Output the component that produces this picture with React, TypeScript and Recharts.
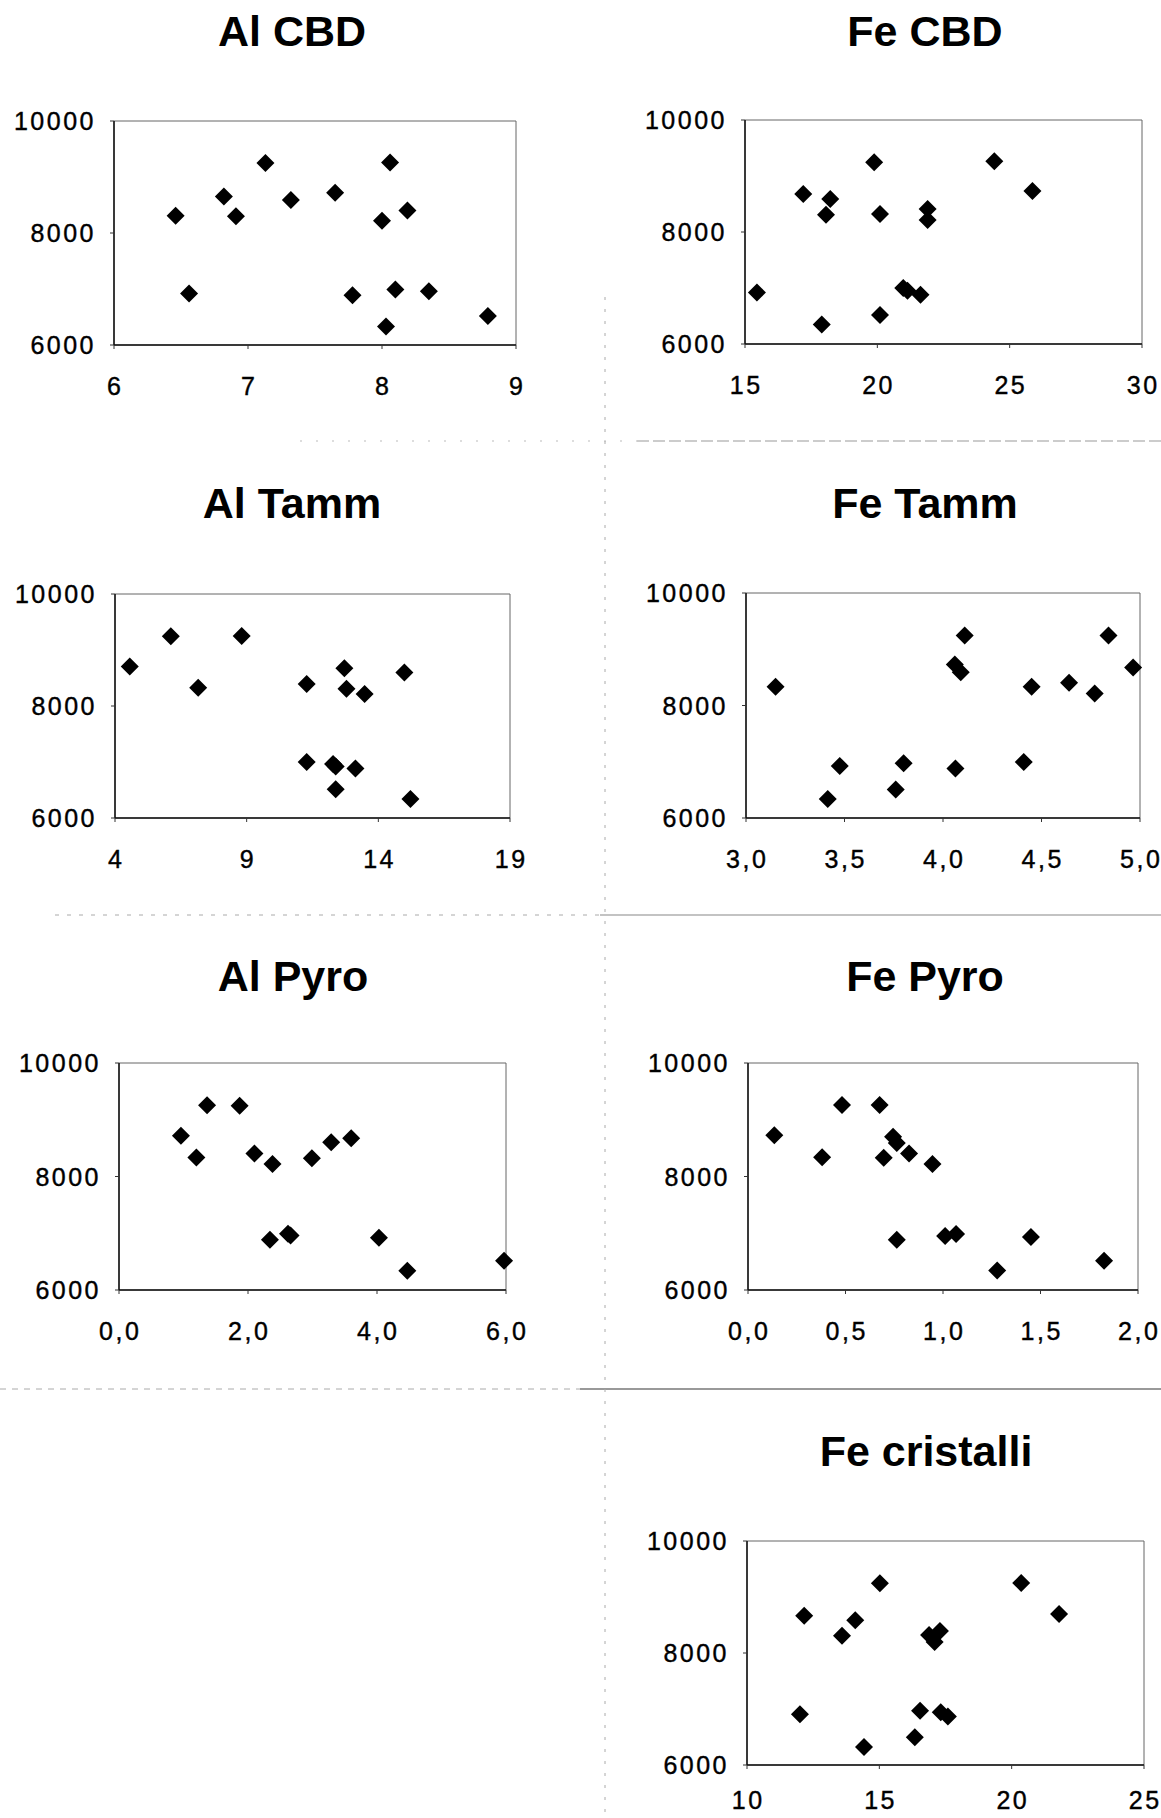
import React from "react";
import { ScatterChart, Scatter, XAxis, YAxis, ReferenceArea } from "recharts";

// values (same 15 samples in every panel)
const alCbdX = [6.46, 6.56, 6.82, 6.91, 7.13, 7.32, 7.65, 7.78, 8.0, 8.06, 8.19, 8.1, 8.03, 8.35, 8.79];
const alCbdY = [8310, 6920, 8650, 8300, 9250, 8590, 8720, 6890, 8220, 9260, 8400, 6990, 6330, 6960, 6520];

const feCbdX = [15.45, 17.2, 17.9, 18.06, 18.22, 19.88, 20.1, 20.1, 20.98, 21.14, 21.63, 21.9, 21.9, 24.42, 25.86];
const feCbdY = [6920, 8680, 6350, 8310, 8590, 9245, 8320, 6520, 7000, 6950, 6880, 8410, 8215, 9265, 8730];

const alTammX = [4.56, 6.12, 7.16, 8.81, 11.28, 11.28, 12.28, 12.38, 12.38, 12.71, 12.79, 13.13, 13.48, 14.99, 15.22];
const alTammY = [8705, 9245, 8325, 9250, 8395, 7000, 6965, 6920, 6515, 8675, 8310, 6885, 8215, 8600, 6340];

const feTammX = [3.15, 3.415, 3.476, 3.76, 3.8, 4.06, 4.09, 4.11, 4.063, 4.41, 4.45, 4.64, 4.77, 4.84, 4.965];
const feTammY = [8335, 6340, 6925, 6505, 6975, 8730, 8590, 9245, 6880, 6995, 8335, 8405, 8215, 9245, 8675];

const alPyroX = [0.96, 1.2, 1.365, 1.87, 2.1, 2.38, 2.34, 2.62, 2.66, 2.99, 3.29, 3.6, 4.03, 4.47, 5.97];
const alPyroY = [8720, 8335, 9255, 9245, 8405, 8220, 6885, 6990, 6960, 8320, 8605, 8675, 6920, 6340, 6515];

const fePyroX = [0.135, 0.38, 0.482, 0.675, 0.696, 0.744, 0.763, 0.826, 0.946, 0.763, 1.011, 1.067, 1.278, 1.451, 1.826];
const fePyroY = [8725, 8340, 9260, 9260, 8330, 8700, 8590, 8405, 8220, 6885, 6950, 6985, 6345, 6935, 6515];

const feCristX = [12.0, 12.16, 13.59, 14.09, 14.42, 15.02, 16.34, 16.54, 16.88, 17.29, 17.09, 17.32, 17.59, 20.36, 21.79];
const feCristY = [6905, 8665, 8310, 8585, 6320, 9245, 6495, 6970, 8320, 8395, 8195, 6940, 6865, 9250, 8695];

const alCbdTicks = [6, 7, 8, 9];
const feCbdTicks = [15, 20, 25, 30];
const alTammTicks = [4, 9, 14, 19];
const feTammTicks = [3, 3.5, 4, 4.5, 5];
const alPyroTicks = [0, 2, 4, 6];
const fePyroTicks = [0, 0.5, 1, 1.5, 2];
const feCristTicks = [10, 15, 20, 25];
const yTicks = [6000, 8000, 10000];

const FONT = "'Liberation Sans', Arial, Helvetica, sans-serif";
const Y_W = 100;
const PAD_T = 15;
const PAD_R = 30;
const X_H = 70;

// box = [left, top, right, bottom] of the plot frame on the page
const panels = [
  { title: "Al CBD", xs: alCbdX, ys: alCbdY, ticks: alCbdTicks, dec: 0, box: [114, 121, 516, 345], tx: 292, ty: 46, ldy: 46 },
  { title: "Fe CBD", xs: feCbdX, ys: feCbdY, ticks: feCbdTicks, dec: 0, box: [745, 120, 1142, 344], tx: 925, ty: 46, ldy: 46 },
  { title: "Al Tamm", xs: alTammX, ys: alTammY, ticks: alTammTicks, dec: 0, box: [115, 594, 510, 818], tx: 292, ty: 518, ldy: 46 },
  { title: "Fe Tamm", xs: feTammX, ys: feTammY, ticks: feTammTicks, dec: 1, box: [746, 593, 1140, 818], tx: 925, ty: 518, ldy: 46 },
  { title: "Al Pyro", xs: alPyroX, ys: alPyroY, ticks: alPyroTicks, dec: 1, box: [119, 1063, 506, 1290], tx: 293, ty: 991, ldy: 46 },
  { title: "Fe Pyro", xs: fePyroX, ys: fePyroY, ticks: fePyroTicks, dec: 1, box: [748, 1063, 1138, 1290], tx: 925, ty: 991, ldy: 46 },
  { title: "Fe cristalli", xs: feCristX, ys: feCristY, ticks: feCristTicks, dec: 0, box: [747, 1541, 1144, 1765], tx: 926, ty: 1466, ldy: 40 },
];

const fmt = (v: number, dec: number) => (dec ? v.toFixed(dec).replace(".", ",") : String(v));

const Diamond = (props: any) => {
  const { cx, cy } = props;
  if (cx == null || cy == null) return null;
  const r = 9;
  return <path d={`M${cx},${cy - r}L${cx + r},${cy}L${cx},${cy + r}L${cx - r},${cy}Z`} fill="#000" />;
};

const labelStyle = { letterSpacing: "2.5px" };

const XTick = ({ x, y, payload, dec, ldy }: any) => (
  <text x={x} y={y} dx={1.2} dy={ldy} textAnchor="middle" fill="#000" stroke="#000" strokeWidth={0.4} fontSize={25} fontFamily={FONT} style={labelStyle}>
    {fmt(payload.value, dec)}
  </text>
);

const YTick = ({ x, y, payload }: any) => (
  <text x={x} y={y} dx={-14} dy={9} textAnchor="end" fill="#000" stroke="#000" strokeWidth={0.4} fontSize={25} fontFamily={FONT} style={labelStyle}>
    {payload.value}
  </text>
);

function Panel({ p }: { p: any }) {
  const [l, t, r, b] = p.box;
  const data = p.xs.map((x: number, i: number) => ({ x, y: p.ys[i] }));
  const lo = p.ticks[0];
  const hi = p.ticks[p.ticks.length - 1];
  return (
    <div style={{ position: "absolute", left: l - Y_W, top: t - PAD_T }}>
      <ScatterChart width={Y_W + (r - l) + PAD_R} height={PAD_T + (b - t) + X_H} margin={{ top: PAD_T, right: PAD_R, bottom: 0, left: 0 }}>
        <XAxis
          type="number"
          dataKey="x"
          domain={[lo, hi]}
          ticks={p.ticks}
          interval={0}
          height={X_H}
          tickSize={4}
          tickMargin={0}
          axisLine={{ stroke: "#111", strokeWidth: 1.5 }}
          tickLine={{ stroke: "#333" }}
          tick={(props: any) => <XTick {...props} dec={p.dec} ldy={p.ldy} />}
        />
        <YAxis
          type="number"
          dataKey="y"
          domain={[6000, 10000]}
          ticks={yTicks}
          interval={0}
          width={Y_W}
          tickSize={4}
          tickMargin={0}
          axisLine={{ stroke: "#111", strokeWidth: 1.5 }}
          tickLine={{ stroke: "#333" }}
          tick={(props: any) => <YTick {...props} />}
        />
        <ReferenceArea x1={lo} x2={hi} y1={6000} y2={10000} fill="none" stroke="#666" strokeWidth={1} />
        <Scatter data={data} fill="#000" shape={Diamond} isAnimationActive={false} />
      </ScatterChart>
    </div>
  );
}

export default function App() {
  return (
    <div style={{ position: "absolute", left: 0, top: 0, width: 1161, height: 1818, overflow: "hidden", background: "#fff" }}>
      <svg width={1161} height={1818} style={{ position: "absolute", left: 0, top: 0 }}>
        <line x1={300} y1={441} x2={637} y2={441} stroke="#bbb" strokeWidth={1} strokeDasharray="2 14" />
        <line x1={637} y1={441} x2={1161} y2={441} stroke="#999" strokeWidth={1} strokeDasharray="12 4" />
        <line x1={55} y1={915} x2={600} y2={915} stroke="#aaa" strokeWidth={1} strokeDasharray="4 8" />
        <line x1={600} y1={915} x2={1161} y2={915} stroke="#888" strokeWidth={1.2} />
        <line x1={0} y1={1389} x2={580} y2={1389} stroke="#aaa" strokeWidth={1} strokeDasharray="6 6" />
        <line x1={580} y1={1389} x2={1161} y2={1389} stroke="#777" strokeWidth={1.4} />
        <line x1={605} y1={297} x2={605} y2={1818} stroke="#aaa" strokeWidth={1} strokeDasharray="3 9" />
        {panels.map((p) => (
          <text key={p.title} x={p.tx} y={p.ty} textAnchor="middle" fontFamily={FONT} fontWeight="bold" fontSize={43} fill="#000">
            {p.title}
          </text>
        ))}
      </svg>
      {panels.map((p) => (
        <Panel key={p.title} p={p} />
      ))}
    </div>
  );
}
